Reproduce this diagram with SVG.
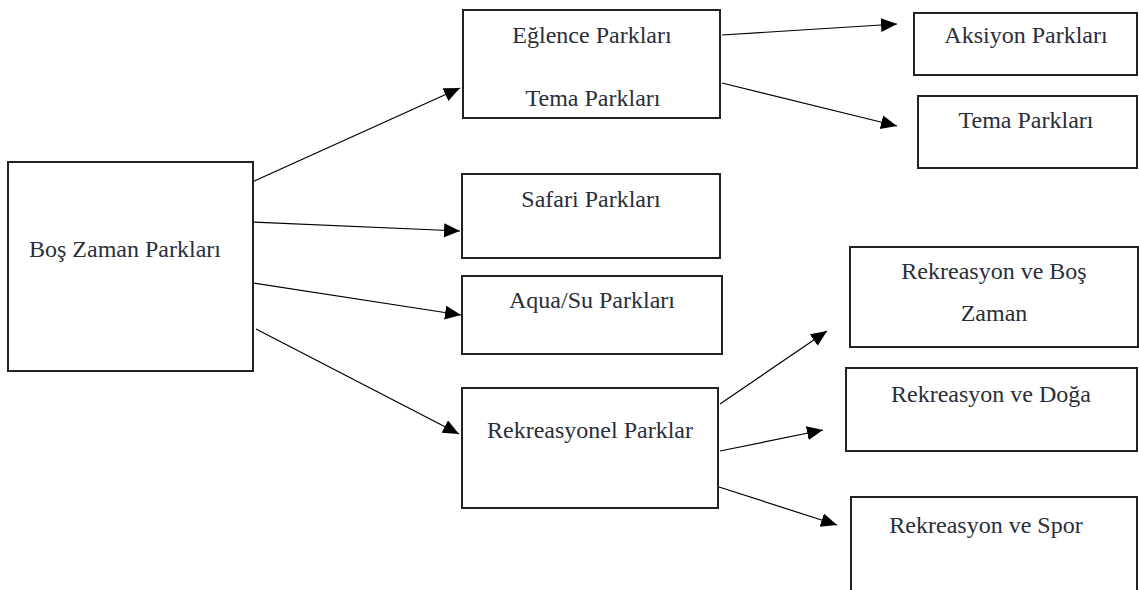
<svg xmlns="http://www.w3.org/2000/svg" width="1139" height="590" viewBox="0 0 1139 590">
<style>
.box{fill:#fff;stroke:#222;stroke-width:2}
text{font-family:'Liberation Serif','Times New Roman',Times,serif;font-size:24px;fill:#2a2e38;text-anchor:middle}
.con{stroke:#000;stroke-width:1.2;fill:none;marker-end:url(#ah)}
</style>
<defs>
<marker id="ah" markerUnits="userSpaceOnUse" markerWidth="18" markerHeight="16" refX="16" refY="7" orient="auto">
<path d="M0,0 L16,7 L0,14 z" fill="#000"/>
</marker>
</defs>
<rect width="1139" height="590" fill="#fff"/>
<g id="connectors">
<line class="con" x1="250" y1="183" x2="460" y2="88"/>
<line class="con" x1="253" y1="222" x2="460" y2="231"/>
<line class="con" x1="253" y1="283" x2="461" y2="315"/>
<line class="con" x1="256" y1="329" x2="459" y2="434"/>
<line class="con" x1="722" y1="35" x2="897" y2="24"/>
<line class="con" x1="722" y1="83" x2="897" y2="126"/>
<line class="con" x1="720" y1="404" x2="827" y2="331"/>
<line class="con" x1="720" y1="451" x2="823" y2="430"/>
<line class="con" x1="719" y1="487" x2="837" y2="525"/>
</g>
<g id="bos-zaman">
<rect class="box" x="8" y="162" width="245" height="209"/>
<text x="125" y="257" font-family="Liberation Serif, serif">Boş Zaman Parkları</text>
</g>
<g id="eglence">
<rect class="box" x="463" y="10" width="257" height="108"/>
<text x="592" y="43" font-family="Liberation Serif, serif">Eğlence Parkları</text>
<text x="593" y="106" font-family="Liberation Serif, serif">Tema Parkları</text>
</g>
<g id="safari">
<rect class="box" x="462" y="174" width="258" height="84"/>
<text x="591" y="207" font-family="Liberation Serif, serif">Safari Parkları</text>
</g>
<g id="aqua">
<rect class="box" x="462" y="276" width="260" height="78"/>
<text x="592" y="308" font-family="Liberation Serif, serif">Aqua/Su Parkları</text>
</g>
<g id="rekreasyonel">
<rect class="box" x="462" y="388" width="256" height="120"/>
<text x="590" y="438" font-family="Liberation Serif, serif">Rekreasyonel Parklar</text>
</g>
<g id="aksiyon">
<rect class="box" x="914" y="13" width="223" height="62"/>
<text x="1026" y="43" font-family="Liberation Serif, serif">Aksiyon Parkları</text>
</g>
<g id="tema">
<rect class="box" x="918" y="96" width="219" height="72"/>
<text x="1026" y="128" font-family="Liberation Serif, serif">Tema Parkları</text>
</g>
<g id="rek-bos">
<rect class="box" x="850" y="247" width="288" height="100"/>
<text x="994" y="279" font-family="Liberation Serif, serif">Rekreasyon ve Boş</text>
<text x="994" y="321" font-family="Liberation Serif, serif">Zaman</text>
</g>
<g id="rek-doga">
<rect class="box" x="846" y="368" width="291" height="83"/>
<text x="991" y="402" font-family="Liberation Serif, serif">Rekreasyon ve Doğa</text>
</g>
<g id="rek-spor">
<rect class="box" x="851" y="497" width="286" height="97"/>
<text x="986" y="533" font-family="Liberation Serif, serif">Rekreasyon ve Spor</text>
</g>
</svg>
